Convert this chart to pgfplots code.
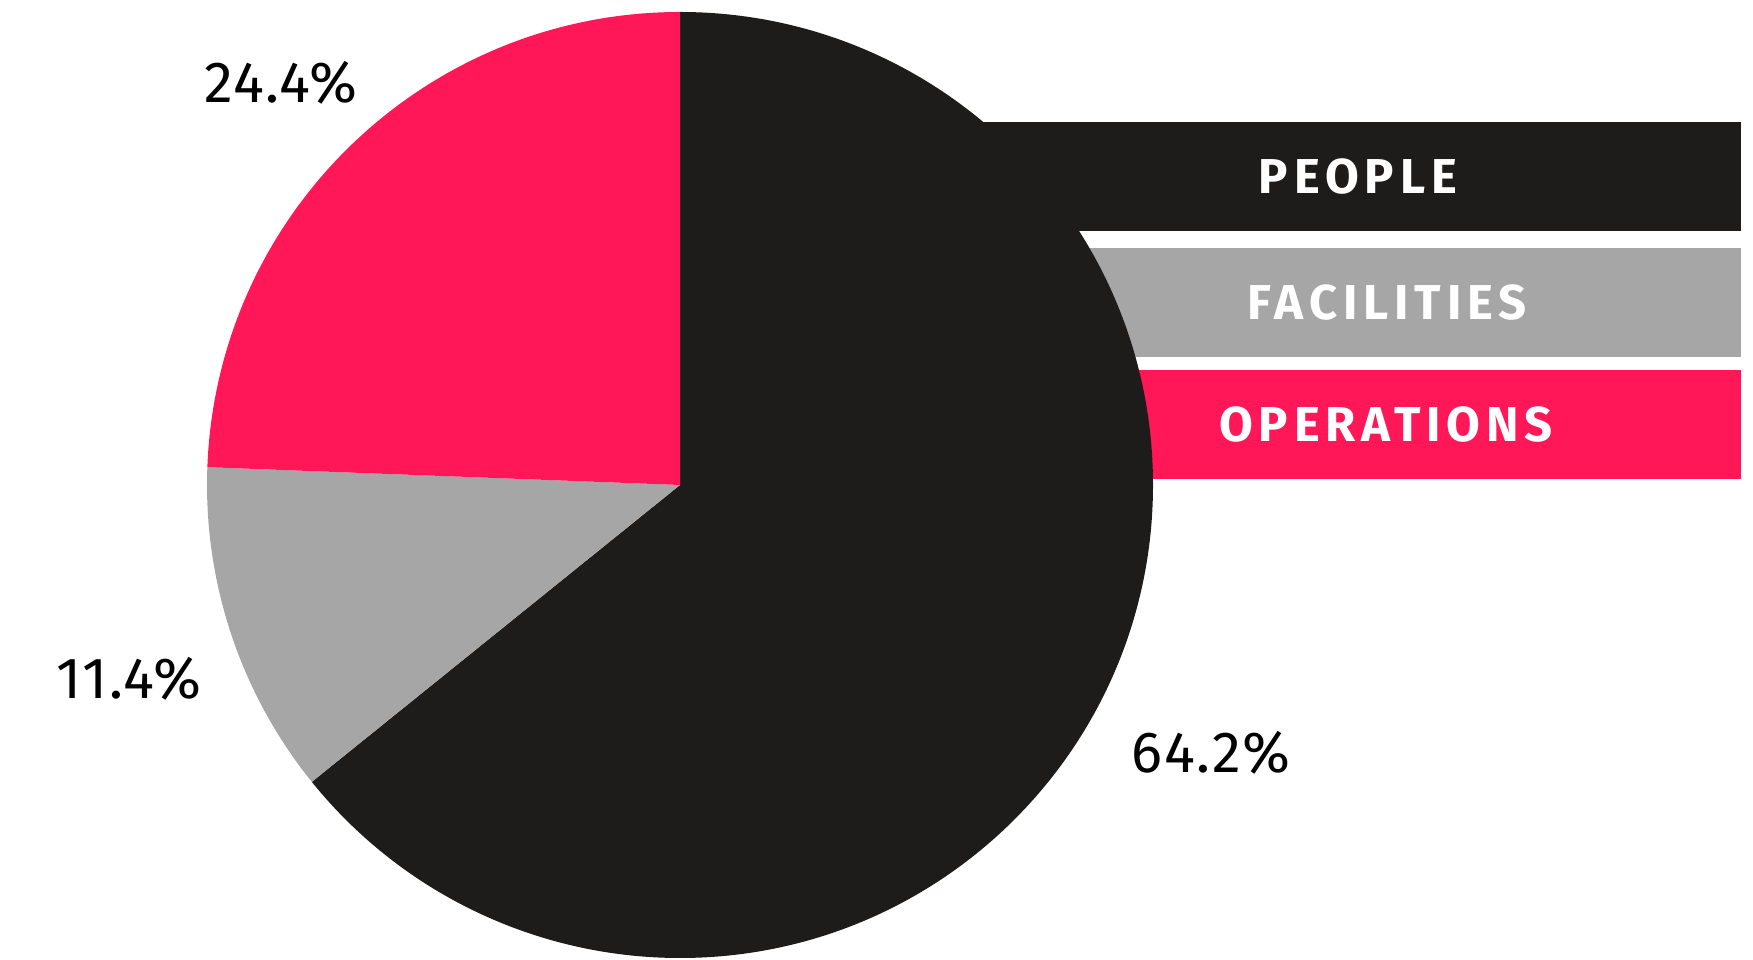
\documentclass[border=0pt]{standalone}
\usepackage{fontspec}
\setmainfont{Fira Sans}
\newfontfamily\numfont[LetterSpace=3]{Fira Sans}
\newfontfamily\legfont[LetterSpace=12]{Fira Sans}
\usepackage{pgfplots}
\usepackage{pgfplotstable}
\pgfplotsset{compat=1.18}

\definecolor{slice0}{HTML}{1D1C1A}
\definecolor{slice1}{HTML}{A6A6A6}
\definecolor{slice2}{HTML}{FF1758}

% share in percent, label position (x, baseline y) in picture units
\pgfplotstableread{
label      value  lx    ly
PEOPLE     64.2   1211  187
FACILITIES 11.4   129   261
OPERATIONS 24.4   281   857
}\piedata

% legend bars: bottom, top, text x, text baseline
\pgfplotstableread{
label      y0   y1   tx    ty
PEOPLE     729  838  1358  766
FACILITIES 603  712  1387  640
OPERATIONS 481  590  1386  518
}\legdata

\def\cx{680}
\def\cy{475}
\def\R{473}

\begin{document}
\begin{tikzpicture}
\begin{axis}[
  x=1pt, y=1pt,
  xmin=0, xmax=1753, ymin=0, ymax=960,
  hide axis, clip=false, scale only axis,
]
\path (axis cs:0,0) rectangle (axis cs:1753,960);

% legend bars (behind the pie)
\pgfplotsforeachungrouped \i in {0,1,2}{
  \pgfplotstablegetelem{\i}{y0}\of\legdata \let\ya\pgfplotsretval
  \pgfplotstablegetelem{\i}{y1}\of\legdata \let\yb\pgfplotsretval
  \edef\cmd{\noexpand\fill[slice\i] (axis cs:\cx,\ya) rectangle (axis cs:1741,\yb);}
  \cmd
}

% pie slices, clockwise from the top
\def\start{90}
\pgfplotsforeachungrouped \i in {0,1,2}{
  \pgfplotstablegetelem{\i}{value}\of\piedata \let\v\pgfplotsretval
  \pgfmathsetmacro\stop{\start-3.6*\v}
  \edef\cmd{\noexpand\fill[slice\i] (axis cs:\cx,\cy) -- ++(\start:\R pt)
    arc[start angle=\start, end angle=\stop, radius=\R pt] -- cycle;}
  \cmd
  \global\let\start\stop
}

% percentage labels
\pgfplotsforeachungrouped \i in {0,1,2}{
  \pgfplotstablegetelem{\i}{value}\of\piedata \let\v\pgfplotsretval
  \pgfplotstablegetelem{\i}{lx}\of\piedata \let\lx\pgfplotsretval
  \pgfplotstablegetelem{\i}{ly}\of\piedata \let\ly\pgfplotsretval
  \edef\cmd{\noexpand\node[anchor=base, inner sep=0pt,
    font=\noexpand\numfont\noexpand\fontsize{58}{66}\noexpand\selectfont]
    at (axis cs:\lx,\ly) {\v\noexpand\%};}
  \cmd
}

% legend texts
\pgfplotsforeachungrouped \i in {0,1,2}{
  \pgfplotstablegetelem{\i}{label}\of\legdata \let\lab\pgfplotsretval
  \pgfplotstablegetelem{\i}{tx}\of\legdata \let\tx\pgfplotsretval
  \pgfplotstablegetelem{\i}{ty}\of\legdata \let\ty\pgfplotsretval
  \edef\cmd{\noexpand\node[anchor=base, inner sep=0pt, text=white,
    font=\noexpand\legfont\noexpand\bfseries\noexpand\fontsize{49}{56}\noexpand\selectfont]
    at (axis cs:\tx,\ty) {\lab};}
  \cmd
}
\end{axis}
\end{tikzpicture}
\end{document}
